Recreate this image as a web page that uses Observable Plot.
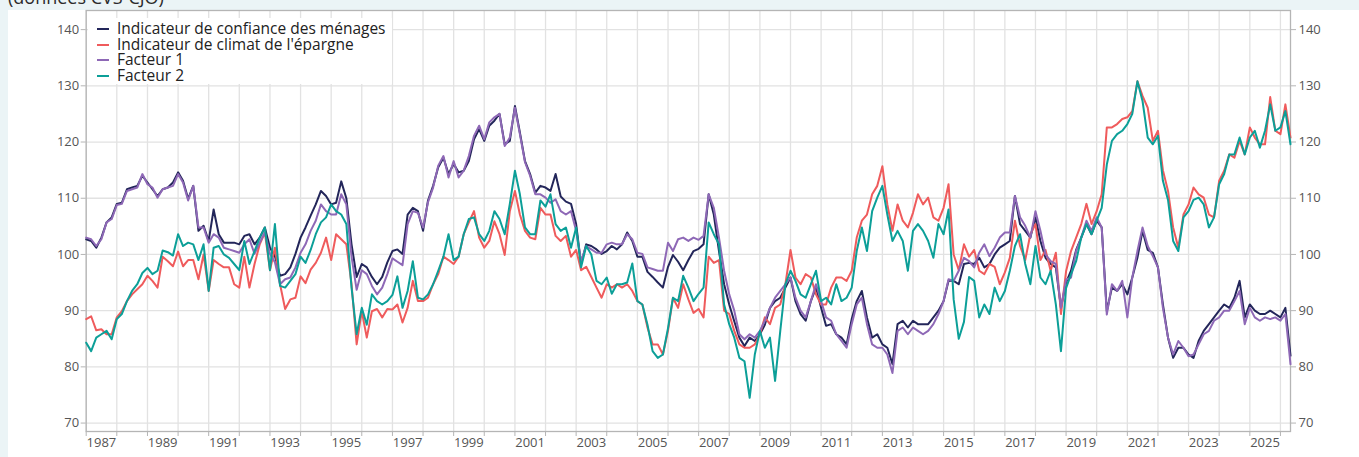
<!DOCTYPE html>
<html lang="fr">
<head>
<meta charset="utf-8">
<script src="https://cdn.jsdelivr.net/npm/d3@7"></script>
<script src="https://cdn.jsdelivr.net/npm/@observablehq/plot@0.6"></script>
<style>
  html, body { margin: 0; padding: 0; }
  body { background: #ebf4f6; font-family: "Open Sans", sans-serif; overflow: hidden; }
  #wrap { position: relative; width: 1359px; height: 457px; overflow: hidden; }
  #card { position: absolute; left: 8px; top: 10px; right: 0; bottom: 0; background: #fff; }
  #title { position: absolute; left: 8px; top: -12px; height: 18px; font-size: 18px; line-height: 18px; color: #2b2b2b; white-space: nowrap; }
  #chart { position: absolute; left: 0; top: 0; }
  #legend { position: absolute; left: 88px; top: 18px; width: 304px; height: 66px; background: #fff; }
  #legend .row { position: absolute; left: 0; height: 15.6px; }
  #legend .sw { position: absolute; left: 9px; top: 7px; width: 12px; height: 2px; }
  #legend .lbl { position: absolute; left: 29px; top: 0; display: block; height: 15.6px; line-height: 15.6px; font-size: 15.5px; color: #222; white-space: nowrap; }
</style>
</head>
<body>
<div id="wrap">
  <div id="card"></div>
  <div id="title">(données CVS-CJO)</div>
  <div id="chart"></div>
  <div id="legend"></div>
</div>
<script>
// Bimonthly observations, January 1987 to May 2026 (six values per year)
const firstMonth = new Date(Date.UTC(1987, 0, 1));
const lastMonth = new Date(Date.UTC(2026, 4, 1));

// Indicateur synthétique de confiance des ménages
const confiance = [
  102.7, 102.4, 101.2, 103.0, 105.7, 106.6,
  109.0, 109.2, 111.6, 111.9, 112.2, 114.0,
  112.8, 111.6, 110.4, 111.6, 111.9, 112.8,
  114.6, 113.1, 109.9, 112.2, 104.2, 105.1,
  102.4, 108.0, 103.6, 102.1, 102.1, 102.1,
  101.8, 103.3, 103.6, 101.8, 103.0, 104.8,
  101.2, 99.7, 96.2, 96.5, 97.7, 100.1,
  103.0, 104.8, 106.9, 108.9, 111.3, 110.4,
  108.9, 109.2, 113.0, 110.0, 101.8, 96.0,
  98.3, 97.7, 96.0, 94.7, 96.0, 98.6,
  100.6, 100.9, 100.1, 107.1, 108.3, 107.7,
  104.2, 109.6, 112.2, 115.5, 117.2, 114.3,
  116.1, 114.6, 114.9, 116.6, 120.5, 122.3,
  120.2, 122.9, 123.8, 125.0, 119.6, 120.2,
  126.4, 121.7, 116.6, 114.3, 111.0, 112.2,
  111.9, 111.3, 114.3, 110.3, 109.4, 109.0,
  105.4, 98.3, 101.8, 101.5, 100.9, 100.1,
  100.6, 101.5, 100.9, 101.8, 103.9, 102.4,
  99.6, 99.6, 96.9, 96.0, 95.0, 94.1,
  97.8, 99.9, 98.7, 97.2, 99.0, 100.6,
  101.0, 101.8, 110.7, 107.1, 100.6, 94.7,
  91.1, 88.1, 85.2, 83.7, 85.2, 84.6,
  85.8, 87.5, 90.5, 91.7, 92.3, 94.1,
  95.9, 91.7, 89.4, 88.2, 91.7, 94.1,
  90.5, 87.3, 87.6, 85.8, 85.2, 84.0,
  88.5, 91.7, 93.5, 88.8, 85.2, 85.8,
  84.0, 83.4, 80.5, 87.6, 88.2, 87.0,
  88.2, 87.6, 87.6, 87.6, 88.8, 90.0,
  91.7, 95.3, 95.3, 94.7, 98.3, 98.5,
  98.3, 99.4, 97.7, 98.3, 100.0, 101.2,
  101.8, 102.4, 110.4, 105.4, 104.2, 103.0,
  106.6, 102.4, 99.4, 98.3, 97.7, 90.5,
  95.0, 97.1, 100.8, 103.0, 105.4, 103.6,
  106.0, 104.8, 89.9, 94.1, 93.5, 94.7,
  92.9, 95.9, 99.4, 104.2, 100.8, 100.3,
  97.7, 91.1, 85.2, 81.6, 83.4, 83.4,
  82.2, 81.6, 84.6, 86.4, 87.6, 88.8,
  90.0, 91.1, 90.5, 92.3, 95.3, 88.8,
  91.1, 90.0, 89.4, 89.4, 90.0, 89.4,
  88.8, 90.5, 82.0
];

// Indicateur de climat de l'épargne
const epargne = [
  88.5, 89.0, 86.5, 86.7, 85.8, 85.8,
  88.8, 89.9, 91.7, 92.9, 93.8, 94.7,
  96.2, 95.3, 94.1, 99.6, 98.8, 97.9,
  100.5, 97.9, 99.0, 99.0, 95.6, 100.0,
  93.5, 99.0, 98.3, 97.7, 97.7, 94.7,
  94.1, 99.6, 94.1, 98.3, 101.8, 103.9,
  97.2, 101.2, 94.7, 90.3, 92.0, 92.3,
  96.1, 94.9, 97.3, 98.5, 100.3, 103.0,
  99.0, 103.6, 102.7, 101.8, 94.7, 84.0,
  89.9, 85.2, 89.9, 90.3, 88.8, 90.3,
  90.2, 91.1, 87.9, 90.5, 95.3, 91.7,
  91.7, 92.3, 94.7, 96.5, 99.6, 99.0,
  98.3, 99.6, 103.6, 105.7, 107.7, 103.0,
  101.2, 102.4, 105.9, 103.6, 99.9, 107.7,
  111.3, 107.1, 104.2, 103.0, 102.7, 108.3,
  107.1, 107.1, 103.3, 102.4, 103.3, 99.6,
  100.8, 97.2, 97.8, 96.0, 94.1, 92.3,
  94.7, 94.1, 94.7, 94.1, 94.7, 93.5,
  91.7, 91.1, 87.0, 84.0, 84.0, 82.2,
  86.4, 92.3, 90.5, 94.7, 92.0, 89.6,
  90.3, 88.8, 99.6, 98.5, 99.0, 90.0,
  89.4, 86.4, 84.0, 83.4, 83.4, 84.0,
  85.8, 88.8, 87.6, 90.5, 91.1, 94.7,
  100.8, 95.9, 94.7, 96.5, 95.9, 92.9,
  91.1, 91.1, 94.1, 95.9, 95.9, 95.3,
  97.1, 103.0, 106.0, 107.1, 110.7, 112.2,
  115.7, 108.9, 104.2, 108.9, 106.0, 104.8,
  107.4, 110.7, 108.9, 110.1, 106.6, 106.0,
  108.3, 112.5, 100.0, 97.2, 101.8, 99.6,
  100.8, 97.1, 96.5, 98.3, 97.8, 94.7,
  96.8, 99.4, 106.0, 101.5, 99.0, 103.6,
  105.4, 99.0, 100.8, 97.1, 100.3, 89.4,
  97.0, 100.6, 103.0, 105.4, 109.0, 105.4,
  107.7, 110.7, 122.6, 122.6, 123.2, 124.1,
  124.4, 125.5, 130.8, 128.2, 126.1, 120.2,
  122.0, 115.0, 111.3, 104.8, 101.2, 107.1,
  108.9, 111.9, 110.7, 110.1, 107.1, 106.6,
  113.1, 114.9, 117.8, 117.2, 120.2, 117.8,
  122.6, 120.8, 119.6, 119.6, 128.0, 122.0,
  121.4, 126.7, 120.8
];

// Facteur 1
const facteur1 = [
  103.0, 102.7, 101.5, 102.7, 105.7, 106.3,
  108.8, 109.0, 111.3, 111.6, 111.9, 114.3,
  112.5, 111.9, 110.1, 111.6, 111.9, 112.2,
  114.3, 112.8, 109.6, 112.2, 104.8, 104.8,
  102.1, 103.6, 103.0, 101.2, 100.9, 100.6,
  100.3, 101.8, 102.7, 100.1, 102.1, 103.9,
  100.1, 98.6, 94.7, 95.6, 95.9, 97.7,
  100.3, 101.8, 104.2, 106.0, 108.9, 107.7,
  107.1, 107.1, 110.7, 108.9, 99.6, 93.7,
  97.2, 96.5, 94.4, 92.9, 94.1, 96.5,
  99.3, 98.7, 98.1, 105.4, 107.7, 107.4,
  104.8, 109.3, 111.9, 115.8, 117.5, 113.7,
  116.6, 113.7, 114.9, 117.5, 121.1, 122.9,
  120.5, 123.5, 124.4, 125.0, 119.3, 120.8,
  126.1, 121.4, 116.4, 114.0, 110.7, 110.7,
  110.1, 109.2, 109.8, 107.7, 107.1, 107.7,
  104.2, 98.8, 101.5, 100.9, 100.3, 100.3,
  101.8, 102.1, 101.8, 101.8, 103.6, 102.7,
  100.3, 100.1, 97.7, 97.4, 97.1, 97.1,
  102.1, 100.6, 102.7, 103.0, 102.4, 103.0,
  102.6, 103.3, 110.7, 108.3, 103.0, 97.1,
  92.9, 90.0, 85.8, 84.9, 85.8, 85.2,
  86.4, 88.2, 90.5, 92.3, 93.5, 94.7,
  95.9, 92.3, 90.0, 88.8, 91.7, 94.7,
  91.7, 88.8, 88.2, 85.8, 84.6, 83.4,
  87.6, 91.1, 92.3, 87.6, 84.0, 83.4,
  83.4, 82.2, 78.9, 86.4, 87.0, 85.8,
  87.0, 86.4, 85.8, 86.4, 87.6, 89.4,
  91.7, 95.6, 95.3, 97.1, 99.4, 98.8,
  97.7, 100.3, 101.8, 99.7, 101.2, 103.0,
  103.9, 103.9, 110.4, 106.6, 105.1, 103.0,
  107.7, 104.2, 100.0, 98.8, 98.3, 90.5,
  95.5, 95.9, 100.6, 103.0, 106.0, 104.2,
  106.6, 104.8, 89.3, 94.7, 93.5, 95.3,
  88.8, 95.9, 100.6, 104.8, 101.5, 99.7,
  97.7, 90.5, 85.2, 82.2, 84.6, 83.4,
  81.9, 82.2, 84.0, 85.8, 86.4, 88.2,
  88.8, 90.0, 90.0, 91.7, 93.5, 87.6,
  90.5, 88.8, 88.2, 88.8, 88.5, 88.8,
  88.2, 89.4, 80.5
];

// Facteur 2
const facteur2 = [
  84.3, 82.8, 85.2, 85.8, 86.4, 84.9,
  88.5, 89.4, 91.7, 93.5, 94.7, 96.7,
  97.6, 96.5, 97.1, 100.7, 100.4, 99.8,
  103.6, 101.5, 102.1, 101.8, 99.0, 101.8,
  93.5, 101.2, 101.5, 100.0, 99.4, 98.3,
  97.2, 102.4, 98.3, 100.6, 103.0, 104.8,
  97.2, 105.4, 94.4, 94.1, 95.3, 96.5,
  99.6, 98.5, 100.8, 103.6, 105.7, 106.6,
  108.9, 107.7, 107.1, 105.4, 94.1, 85.8,
  90.5, 87.5, 92.9, 91.7, 91.1, 91.7,
  92.8, 96.1, 90.5, 93.5, 98.8, 92.3,
  92.0, 92.9, 94.7, 97.1, 99.6, 103.6,
  99.0, 99.6, 103.6, 106.3, 106.6, 103.6,
  102.4, 104.2, 107.7, 106.3, 103.6, 109.0,
  114.9, 110.7, 104.8, 103.6, 103.6, 109.6,
  108.5, 110.7, 105.4, 104.2, 104.8, 101.2,
  104.8, 97.7, 101.5, 100.0, 95.3, 94.7,
  95.9, 93.0, 94.7, 94.7, 95.0, 98.4,
  91.7, 91.1, 87.5, 82.8, 81.6, 82.2,
  86.9, 92.3, 91.7, 96.2, 94.1, 91.7,
  93.0, 94.1, 105.7, 103.6, 101.8, 91.1,
  87.6, 85.2, 81.6, 81.0, 74.5, 82.2,
  86.4, 83.4, 85.2, 77.5, 86.4, 94.7,
  97.1, 95.3, 92.9, 92.3, 94.7, 97.1,
  91.7, 92.3, 91.1, 94.7, 91.7, 92.3,
  94.1, 100.6, 104.8, 100.6, 107.7, 110.1,
  112.2, 107.1, 102.4, 104.2, 102.4, 97.1,
  104.2, 105.4, 104.2, 102.4, 99.4, 105.4,
  103.6, 108.0, 92.0, 85.0, 88.0, 96.0,
  95.3, 88.8, 91.1, 89.4, 94.1, 91.7,
  93.5, 97.1, 101.5, 103.6, 98.3, 94.7,
  101.5, 95.9, 94.7, 97.1, 91.1, 82.8,
  94.0, 96.5, 98.8, 103.0, 105.4, 103.6,
  106.0, 108.3, 116.0, 120.2, 121.4, 122.0,
  123.2, 125.0, 130.8, 127.3, 120.8, 119.6,
  121.1, 113.1, 109.7, 102.4, 100.6, 106.6,
  107.7, 109.7, 110.1, 108.9, 104.8, 106.6,
  112.5, 114.3, 117.8, 117.8, 120.8, 117.8,
  120.8, 122.0, 119.0, 122.0, 126.7, 122.0,
  122.6, 125.5, 119.6
];

const seriesNames = [
  "Indicateur de confiance des ménages",
  "Indicateur de climat de l'épargne",
  "Facteur 1",
  "Facteur 2"
];
const seriesColors = ["#23265a", "#ef5b5c", "#8e68b6", "#0c9f98"];
const yTicks = [70, 80, 90, 100, 110, 120, 130, 140];
const labelYears = d3.range(1987, 2026, 2);

const months = d3.utcMonth.every(2).range(firstMonth, d3.utcMonth.offset(lastMonth, 1));
const table = [confiance, epargne, facteur1, facteur2].flatMap((values, i) =>
  values.map((v, j) => ({date: months[j], value: v, serie: seriesNames[i]}))
);

const yearTicks = d3.utcYear.range(new Date(Date.UTC(1987, 0, 1)), new Date(Date.UTC(2026, 1, 1)));
const labelDates = labelYears.map(y => new Date(Date.UTC(y, 6, 1)));

const chart = Plot.plot({
  width: 1359,
  height: 457,
  marginLeft: 85.7,
  marginRight: 69,
  marginTop: 10,
  marginBottom: 26,
  style: {background: "transparent", fontFamily: "'Open Sans', sans-serif", fontSize: "13px", color: "#555"},
  x: {type: "utc", domain: [firstMonth, lastMonth], label: null},
  y: {domain: [68.5, 143.4], label: null},
  marks: [
    Plot.gridX(yearTicks, {stroke: "#e2e2e2", strokeOpacity: 1, strokeWidth: 1.3}),
    Plot.gridY(yTicks, {stroke: "#e2e2e2", strokeOpacity: 1, strokeWidth: 1.3}),
    Plot.axisX(yearTicks, {tickSize: 5, tickFormat: () => "", stroke: "#b5b5b5", label: null}),
    Plot.axisX(labelDates, {tickSize: 0, tickPadding: 6, tickFormat: d3.utcFormat("%Y"), fill: "#555", fontSize: 13, label: null}),
    Plot.axisY(yTicks, {anchor: "left", tickSize: 5, tickPadding: 2, stroke: "#b5b5b5", fill: "#555", fontSize: 13, label: null}),
    Plot.axisY(yTicks, {anchor: "right", tickSize: 5, tickPadding: 3, stroke: "#b5b5b5", fill: "#555", fontSize: 13, label: null}),
    Plot.frame({stroke: "#b5b5b5", strokeWidth: 1.3}),
    ...seriesNames.map((name, i) =>
      Plot.lineY(table.filter(d => d.serie === name), {
        x: "date", y: "value", stroke: seriesColors[i], strokeWidth: 2, strokeLinejoin: "round"
      })
    )
  ]
});
document.getElementById("chart").append(chart);

// Legend in the upper-left corner of the plot area
const legend = document.getElementById("legend");
const rowTops = [3, 18.6, 34.2, 49.8];
seriesNames.forEach((name, i) => {
  const row = document.createElement("div");
  row.className = "row";
  row.style.top = rowTops[i] + "px";
  const sw = document.createElement("span");
  sw.className = "sw";
  sw.style.background = seriesColors[i];
  const lbl = document.createElement("span");
  lbl.className = "lbl";
  lbl.textContent = name;
  row.append(sw, lbl);
  legend.append(row);
});
</script>
</body>
</html>
